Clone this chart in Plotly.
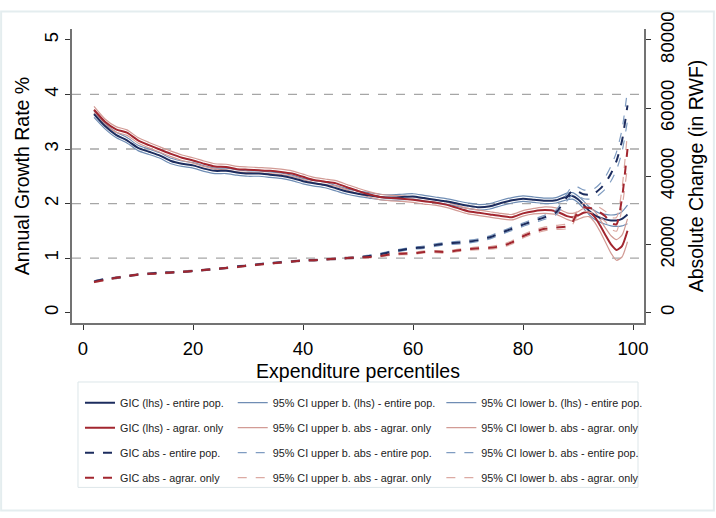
import plotly.graph_objects as go

# ---------------- data ----------------
pct = [2, 4, 6, 8, 10, 12, 14, 16, 18, 20, 22, 24, 26, 28, 30, 32, 34, 36, 38, 40,
       42, 44, 46, 48, 50, 52, 54, 56, 58, 60, 62, 64, 66, 68, 70, 72, 74, 76, 78, 80,
       82, 84, 86, 88, 89, 90, 91, 92, 93, 94, 95, 96, 97, 98, 99]

gic_lhs_entire = [3.64, 3.42, 3.26, 3.16, 3.02, 2.95, 2.88, 2.78, 2.73, 2.70, 2.64, 2.60, 2.60, 2.57, 2.55,
                  2.55, 2.53, 2.51, 2.47, 2.41, 2.37, 2.34, 2.28, 2.22, 2.18, 2.15, 2.12, 2.11, 2.12, 2.13,
                  2.10, 2.07, 2.04, 2.00, 1.96, 1.93, 1.95, 2.01, 2.06, 2.09, 2.07, 2.05, 2.06, 2.13, 2.14,
                  2.08, 1.98, 1.87, 1.79, 1.74, 1.71, 1.69, 1.69, 1.72, 1.80]
ciu_lhs_entire = [3.70, 3.47, 3.31, 3.21, 3.07, 3.00, 2.93, 2.83, 2.78, 2.75, 2.69, 2.65, 2.65, 2.62, 2.60,
                  2.60, 2.58, 2.56, 2.52, 2.46, 2.42, 2.39, 2.33, 2.27, 2.23, 2.20, 2.17, 2.16, 2.17, 2.18,
                  2.15, 2.12, 2.09, 2.05, 2.01, 1.98, 2.00, 2.06, 2.11, 2.14, 2.12, 2.10, 2.11, 2.19, 2.20,
                  2.14, 2.05, 1.94, 1.87, 1.82, 1.80, 1.79, 1.80, 1.85, 1.97]
cil_lhs_entire = [3.58, 3.37, 3.21, 3.11, 2.97, 2.90, 2.83, 2.73, 2.68, 2.65, 2.59, 2.55, 2.55, 2.52, 2.50,
                  2.50, 2.48, 2.46, 2.42, 2.36, 2.32, 2.29, 2.23, 2.17, 2.13, 2.10, 2.07, 2.06, 2.07, 2.08,
                  2.05, 2.02, 1.99, 1.95, 1.91, 1.88, 1.90, 1.96, 2.01, 2.04, 2.02, 2.00, 2.01, 2.07, 2.08,
                  2.02, 1.91, 1.80, 1.71, 1.66, 1.62, 1.59, 1.58, 1.59, 1.63]

gic_lhs_agrar = [3.72, 3.50, 3.36, 3.30, 3.16, 3.07, 2.99, 2.91, 2.84, 2.79, 2.73, 2.68, 2.67, 2.63, 2.62,
                 2.61, 2.60, 2.58, 2.55, 2.49, 2.43, 2.40, 2.37, 2.30, 2.23, 2.17, 2.12, 2.10, 2.09, 2.07,
                 2.04, 2.02, 1.98, 1.92, 1.86, 1.83, 1.80, 1.77, 1.75, 1.82, 1.86, 1.88, 1.86, 1.77, 1.75,
                 1.78, 1.83, 1.84, 1.76, 1.60, 1.42, 1.25, 1.15, 1.22, 1.50]
ciu_lhs_agrar = [3.78, 3.55, 3.41, 3.35, 3.21, 3.12, 3.04, 2.96, 2.89, 2.84, 2.78, 2.73, 2.72, 2.68, 2.67,
                 2.66, 2.65, 2.63, 2.60, 2.54, 2.48, 2.45, 2.42, 2.35, 2.28, 2.22, 2.17, 2.15, 2.14, 2.12,
                 2.09, 2.07, 2.03, 1.97, 1.91, 1.88, 1.85, 1.82, 1.80, 1.87, 1.91, 1.94, 1.92, 1.83, 1.82,
                 1.85, 1.91, 1.92, 1.86, 1.71, 1.55, 1.41, 1.34, 1.42, 1.72]
cil_lhs_agrar = [3.66, 3.45, 3.31, 3.25, 3.11, 3.02, 2.94, 2.86, 2.79, 2.74, 2.68, 2.63, 2.62, 2.58, 2.57,
                 2.56, 2.55, 2.53, 2.50, 2.44, 2.38, 2.35, 2.32, 2.25, 2.18, 2.12, 2.07, 2.05, 2.04, 2.02,
                 1.99, 1.97, 1.93, 1.87, 1.81, 1.78, 1.75, 1.72, 1.70, 1.77, 1.81, 1.82, 1.80, 1.71, 1.68,
                 1.71, 1.75, 1.76, 1.66, 1.49, 1.29, 1.09, 0.96, 1.02, 1.30]

gic_abs_entire = [9100, 9800, 10200, 10700, 11200, 11400, 11700, 11800, 12000, 12200, 12500, 12800, 13100,
                  13500, 13800, 14200, 14500, 14800, 15000, 15300, 15400, 15600, 15800, 16000, 16200, 16600,
                  17100, 17800, 18400, 18900, 19200, 19800, 20300, 20500, 20800, 21300, 22100, 23400, 24600,
                  25800, 26900, 28000, 29400, 33900, 35800, 35500, 34700, 34600, 35000, 36300, 38100, 40800,
                  44500, 50400, 60800]
ciu_abs_entire = [9300, 10000, 10400, 10900, 11400, 11600, 11900, 12000, 12200, 12400, 12700, 13000, 13300,
                  13700, 14000, 14400, 14700, 15000, 15200, 15500, 15600, 15800, 16050, 16250, 16450, 16850,
                  17400, 18100, 18700, 19200, 19550, 20150, 20650, 20900, 21200, 21700, 22550, 23850, 25100,
                  26300, 27450, 28600, 30100, 35000, 37100, 36800, 36000, 35900, 36400, 37800, 39900, 43000,
                  47100, 53700, 65300]
cil_abs_entire = [8900, 9600, 10000, 10500, 11000, 11200, 11500, 11600, 11800, 12000, 12300, 12600, 12900,
                  13300, 13600, 14000, 14300, 14600, 14800, 15100, 15200, 15400, 15550, 15750, 15950, 16350,
                  16800, 17500, 18100, 18600, 18850, 19450, 19950, 20100, 20400, 20900, 21650, 22950, 24100,
                  25300, 26350, 27400, 28700, 32800, 34500, 34200, 33400, 33300, 33600, 34800, 36300, 38600,
                  41900, 47100, 56300]

gic_abs_agrar = [9000, 9600, 10200, 10700, 11200, 11400, 11500, 11800, 12000, 12200, 12500, 12800, 13100,
                 13400, 13800, 14100, 14400, 14700, 15000, 15300, 15400, 15600, 15800, 16000, 16200, 16300,
                 16600, 17100, 17300, 17400, 17800, 17900, 17800, 18200, 18600, 18900, 19000, 19500, 20600,
                 22400, 23700, 24600, 25000, 25300, 26600, 29600, 30900, 30700, 30400, 29400, 28200, 26200,
                 25900, 33600, 48000]
ciu_abs_agrar = [9200, 9800, 10400, 10900, 11400, 11600, 11700, 12000, 12200, 12400, 12700, 13000, 13300,
                 13600, 14000, 14300, 14600, 14900, 15200, 15500, 15600, 15800, 16050, 16250, 16450, 16550,
                 16850, 17400, 17600, 17700, 18100, 18200, 18150, 18550, 18950, 19300, 19400, 19950, 21050,
                 22900, 24250, 25150, 25600, 26000, 27400, 30500, 32000, 31900, 31700, 30800, 29700, 27900,
                 27900, 36400, 53000]
cil_abs_agrar = [8800, 9400, 10000, 10500, 11000, 11200, 11300, 11600, 11800, 12000, 12300, 12600, 12900,
                 13200, 13600, 13900, 14200, 14500, 14800, 15100, 15200, 15400, 15550, 15750, 15950, 16050,
                 16350, 16800, 17000, 17100, 17500, 17600, 17450, 17850, 18250, 18500, 18600, 19050, 20150,
                 21900, 23150, 24050, 24400, 24600, 25800, 28700, 29800, 29500, 29100, 28000, 26700, 24500,
                 23900, 30800, 43000]

x_ticks = [0, 20, 40, 60, 80, 100]
y_ticks = [0, 1, 2, 3, 4, 5]
y2_ticks = [0, 20000, 40000, 60000, 80000]
grid_values = [1, 2, 3, 4]

names = {
    "gle": "GIC (lhs) - entire pop.",
    "gla": "GIC (lhs) - agrar. only",
    "gae": "GIC abs - entire pop.",
    "gaa": "GIC abs - agrar. only",
    "ule": "95% CI upper b. (lhs) - entire pop.",
    "ula": "95% CI upper b. abs - agrar. only",
    "uae": "95% CI upper b. abs - entire pop.",
    "uaa": "95% CI upper b. abs - agrar. only",
    "lle": "95% CI lower b. (lhs) - entire pop.",
    "lla": "95% CI lower b. abs - agrar. only",
    "lae": "95% CI lower b. abs - entire pop.",
    "laa": "95% CI lower b. abs - agrar. only",
}

NAVY = "#1c2c5e"
RED = "#a2262f"
CI_BLUE = "#6f8db4"
CI_RED = "#d29b95"
CI_BLUE_D = "#7f9cc1"
CI_RED_D = "#dcaaa3"

fig = go.Figure()

def add(key, y, color, width, dash, axis, legend):
    fig.add_trace(go.Scatter(
        x=pct, y=y, mode="lines", name=names[key],
        line=dict(color=color, width=width, dash=dash, shape="spline", smoothing=0.6),
        yaxis=axis, legend=legend, legendgroup=key, hoverinfo="skip"))

# CI lines first (drawn below)
add("ule", ciu_lhs_entire, CI_BLUE, 1.2, "solid", "y", "legend2")
add("lle", cil_lhs_entire, CI_BLUE, 1.2, "solid", "y", "legend3")
add("ula", ciu_lhs_agrar, CI_RED, 1.2, "solid", "y", "legend2")
add("lla", cil_lhs_agrar, CI_RED, 1.2, "solid", "y", "legend3")
add("uae", ciu_abs_entire, CI_BLUE_D, 1.2, "dash", "y2", "legend2")
add("lae", cil_abs_entire, CI_BLUE_D, 1.2, "dash", "y2", "legend3")
add("uaa", ciu_abs_agrar, CI_RED_D, 1.2, "dash", "y2", "legend2")
add("laa", cil_abs_agrar, CI_RED_D, 1.2, "dash", "y2", "legend3")
# main lines
add("gle", gic_lhs_entire, NAVY, 2.0, "solid", "y", "legend")
add("gla", gic_lhs_agrar, RED, 2.0, "solid", "y", "legend")
add("gae", gic_abs_entire, NAVY, 2.0, "dash", "y2", "legend")
add("gaa", gic_abs_agrar, RED, 2.0, "dash", "y2", "legend")

FONT = "Liberation Sans, Arial, sans-serif"
axis_common = dict(showline=True, linecolor="#737373", linewidth=1.8, ticks="outside",
                   ticklen=5, tickwidth=1.2, tickcolor="#333333", showgrid=False, zeroline=False,
                   tickfont=dict(size=18.5, color="black", family=FONT))

leg_common = dict(orientation="v", xanchor="left", yanchor="top", y=-0.2216,
                  bgcolor="rgba(0,0,0,0)", borderwidth=0, itemwidth=30, tracegroupgap=6,
                  font=dict(size=10.8, color="#222222", family=FONT), itemclick=False)

fig.update_layout(
    width=716, height=518,
    margin=dict(l=72, r=71, t=19, b=195),
    paper_bgcolor="white", plot_bgcolor="white",
    font=dict(family=FONT, color="black"),
    xaxis=dict(range=[-2, 102], tickvals=x_ticks, ticklabelstandoff=3,
               title=dict(text="Expenditure percentiles", font=dict(size=19.5), standoff=6),
               **axis_common),
    yaxis=dict(range=[-0.19, 5.2], tickvals=y_ticks, tickangle=-90, ticklabelstandoff=0,
               title=dict(text="Annual Growth Rate %", font=dict(size=19.5), standoff=6),
               **axis_common),
    yaxis2=dict(range=[-3040, 83200], tickvals=y2_ticks, ticktext=[str(v) for v in y2_ticks],
                tickangle=-90, overlaying="y", side="right", ticklabelstandoff=1,
                title=dict(text="Absolute Change (in RWF)", font=dict(size=19.5), standoff=12),
                **axis_common),
    legend=dict(x=(80 - 72) / 573, **leg_common),
    legend2=dict(x=(233 - 72) / 573, **leg_common),
    legend3=dict(x=(442 - 72) / 573, **leg_common),
    showlegend=True,
)

for v in grid_values:
    fig.add_hline(y=v, line=dict(color="#a6a6a6", width=1.3, dash="dash"), layer="below")

# legend frame and outer frame
fig.add_shape(type="rect", xref="paper", yref="paper", x0=(78 - 72) / 573, x1=(639 - 72) / 573,
              y0=(323 - 384) / 304, y1=(323 - 493) / 304, line=dict(color="#dde6e9", width=1),
              fillcolor="rgba(0,0,0,0)", layer="below")
fig.add_shape(type="rect", xref="paper", yref="paper", x0=-71 / 573, x1=(715 - 72) / 573,
              y0=(323 - 1) / 304, y1=(323 - 517) / 304, line=dict(color="#e4edef", width=2),
              fillcolor="rgba(0,0,0,0)", layer="below")

fig.write_html("out.html", config={"displayModeBar": False},
               post_script="document.body.style.margin='0px';")
